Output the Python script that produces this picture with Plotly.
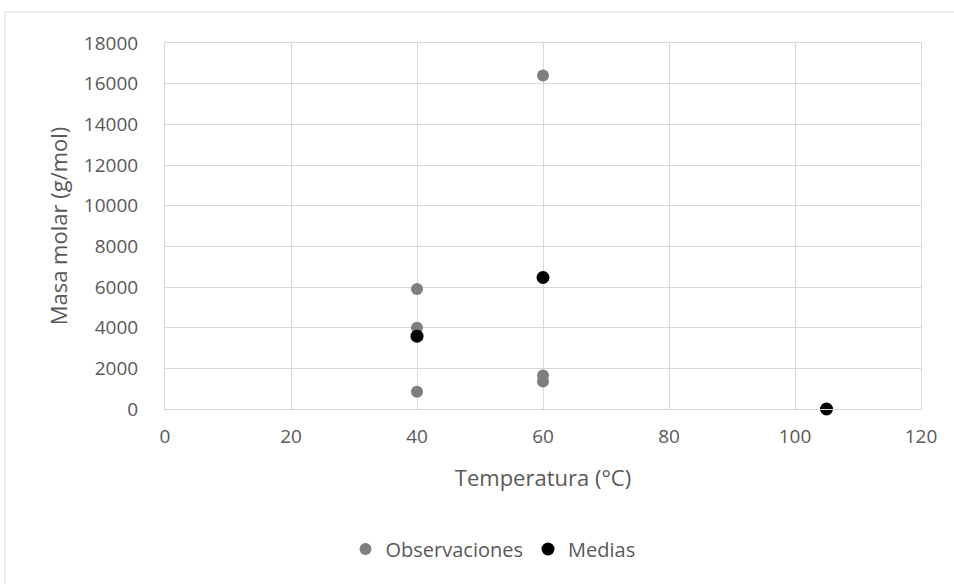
import plotly.graph_objects as go

# Observed molar masses per temperature
obs_temp = [40, 40, 40, 60, 60, 60]
obs_mass = [5900, 4000, 850, 16400, 1650, 1350]

# Mean molar mass per temperature
mean_temp = [40, 60, 105]
mean_mass = [3583, 6467, 0]

x_ticks = [0, 20, 40, 60, 80, 100, 120]
y_ticks = [0, 2000, 4000, 6000, 8000, 10000, 12000, 14000, 16000, 18000]

W, H = 954, 584
L, R, T, B = 165, 33, 43, 175

fig = go.Figure()
fig.add_trace(go.Scatter(
    x=obs_temp, y=obs_mass, mode="markers", name="Observaciones",
    marker=dict(color="#7f7f7f", size=12, line=dict(width=0)),
    cliponaxis=False,
))
fig.add_trace(go.Scatter(
    x=mean_temp, y=mean_mass, mode="markers", name="Medias",
    marker=dict(color="#000000", size=13, line=dict(width=0)),
    cliponaxis=False,
))

pw, ph = W - L - R, H - T - B
def px_x(p):
    return (p - L) / pw
def px_y(p):
    return (H - B - p) / ph

# Outer chart border
fig.add_shape(type="rect", xref="paper", yref="paper",
              x0=px_x(5), x1=px_x(960), y0=px_y(600), y1=px_y(12),
              line=dict(color="#d9d9d9", width=1), fillcolor="rgba(0,0,0,0)",
              layer="below")

tick_font = dict(family="Open Sans", size=19, color="#595959")
title_font = dict(family="Open Sans", size=22, color="#595959")
fig.update_layout(
    width=W, height=H,
    margin=dict(l=L, r=R, t=T, b=B),
    paper_bgcolor="white", plot_bgcolor="white",
    font=tick_font,
    showlegend=True,
    legend=dict(orientation="h", x=px_x(493), xanchor="center", y=px_y(549), yanchor="middle",
                font=dict(family="Open Sans", size=20, color="#595959"),
                itemwidth=30, tracegroupgap=0),
    xaxis=dict(range=[0, 120], tickvals=x_ticks, tickformat="d", showgrid=True,
               gridcolor="#d9d9d9", gridwidth=1, zeroline=False, showline=True,
               linecolor="#d9d9d9", mirror=True, ticks="", ticklabelstandoff=10,
               tickfont=tick_font,
               title=dict(text="Temperatura (°C)", standoff=22, font=title_font)),
    yaxis=dict(range=[0, 18000], tickvals=y_ticks, tickformat="d", showgrid=True,
               gridcolor="#d9d9d9", gridwidth=1, zeroline=False, showline=True,
               linecolor="#d9d9d9", mirror=True, ticks="", ticklabelstandoff=22,
               tickfont=tick_font,
               title=dict(text="Masa molar (g/mol)", standoff=10, font=title_font)),
)

fig.write_html("out.html")
